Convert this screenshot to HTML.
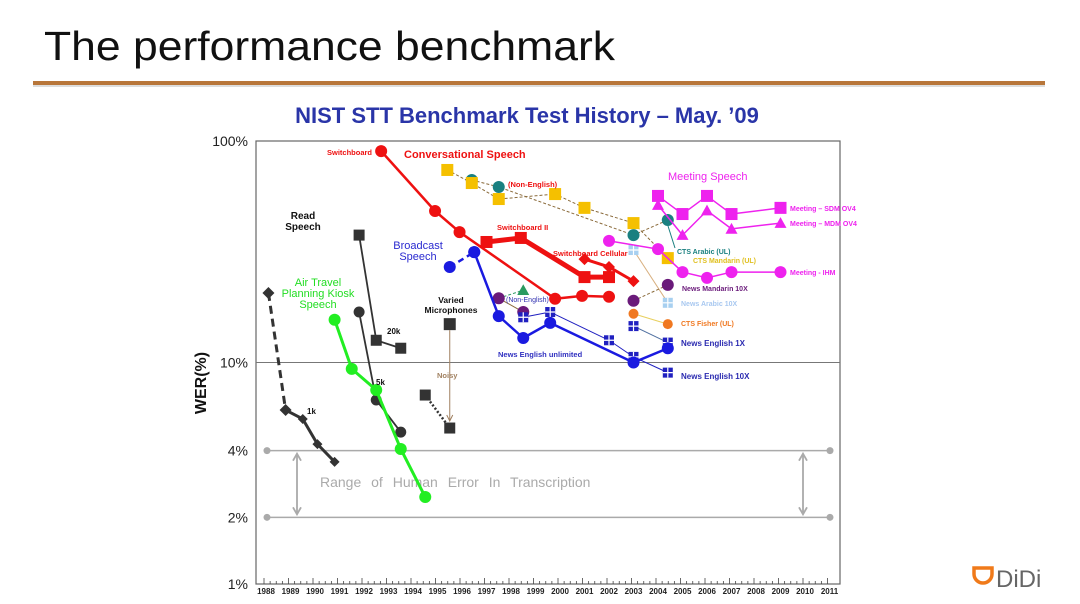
<!DOCTYPE html>
<html><head><meta charset="utf-8"><style>
html,body{margin:0;padding:0;background:#fff;width:1080px;height:604px;overflow:hidden}
svg{display:block}
text{font-family:"Liberation Sans",sans-serif}
</style></head><body>
<svg id="s" width="1080" height="604" viewBox="0 0 1080 604">
<text x="44" y="60" font-size="41" fill="#111" textLength="571" lengthAdjust="spacingAndGlyphs">The performance benchmark</text>
<rect x="33" y="81" width="1012" height="4" fill="#b8763a"/>
<rect x="33" y="85" width="1012" height="2" fill="#ddd"/>
<text x="527" y="123" font-size="22" font-weight="bold" fill="#2a35a8" text-anchor="middle">NIST STT Benchmark Test History – May. ’09</text>
<rect x="256" y="141" width="584" height="443" fill="none" stroke="#666" stroke-width="1.2"/>
<g id="yaxis"></g>
<g id="xaxis"></g>
<text transform="translate(206,383) rotate(-90)" font-size="16" font-weight="bold" text-anchor="middle" fill="#111">WER(%)</text>
<g id="human"></g>
<g id="marks"></g>
<g id="labels"></g>
<g>
<path d="M974 568 h18 v6 a9 9 0 0 1 -18 0 z" fill="none" stroke="#f07a1a" stroke-width="3.5"/>
<text x="996" y="587" font-size="24" fill="#666">DiDi</text>
</g>
</svg>
<script>
const NS="http://www.w3.org/2000/svg";
const yTickVals=[100,10,4,2,1];
const yTickLabels=["100%","10%","4%","2%","1%"];
const xYears=[1988,1989,1990,1991,1992,1993,1994,1995,1996,1997,1998,1999,2000,2001,2002,2003,2004,2005,2006,2007,2008,2009,2010,2011];
const humanRange=[4,2];

const swbYears=[1992.7,1994.9,1995.9,1999.8,2000.9,2002.0];
const swbVals=[90,48.3,38.8,19.4,20,19.8];
const swb2Years=[1997.0,1998.4,2001.0,2002.0];
const swb2Vals=[35,36.5,24.3,24.3];
const cellYears=[2001.0,2002.0,2003.0];
const cellVals=[29.3,27,23.3];
const ctsYears=[1995.4,1996.4,1997.5,1999.8,2001.0,2003.0,2004.4];
const ctsVals=[74,64.6,54.7,57.6,49.9,42.6,29.6];
const nonEngYears=[1996.4,1997.5,2003.0,2004.4];
const nonEngVals=[66.7,62,37.6,44];
const bnDashYears=[1995.5,1996.5];
const bnDashVals=[27,31.5];
const bnYears=[1996.5,1997.5,1998.5,1999.6,2003.0,2004.4];
const bnVals=[31.5,16.2,12.9,15.1,10,11.6];
const ne10Years=[1998.5,1999.6,2002.0,2003.0,2004.4];
const ne10Vals=[16,16.9,12.6,10.6,9.0];
const ne1Years=[2003.0,2004.4];
const ne1Vals=[14.6,12.3];
const bnNonEngYears=[1997.5,1998.5];
const bnNonEngVals=[19.5,16.9];
const triYears=[1997.5,1998.5];
const triVals=[19.5,21.2];
const mandYears=[2003.0,2004.4];
const mandVals=[19,22.4];
const fisherYears=[2003.0,2004.4];
const fisherVals=[16.6,14.9];
const arabYears=[2003.0,2004.4];
const arabVals=[32.2,18.6];
const ihmYears=[2002.0,2004.0,2005.0,2006.0,2007.0,2009.0];
const ihmVals=[35.4,32.5,25.6,24.1,25.6,25.6];
const sdmYears=[2004.0,2005.0,2006.0,2007.0,2009.0];
const sdmVals=[56.5,46.8,56.5,46.8,49.9];
const mdmYears=[2004.0,2005.0,2006.0,2007.0,2009.0];
const mdmVals=[51.4,37.6,48.5,40.1,42.6];
const k1DashYears=[1988.1,1988.8];
const k1DashVals=[20.6,6.1];
const k1Years=[1988.8,1989.5,1990.1,1990.8];
const k1Vals=[6.1,5.56,4.28,3.56];
const k5Years=[1991.8,1992.5,1993.5];
const k5Vals=[16.9,6.77,4.85];
const k20Years=[1991.8,1992.5,1993.5];
const k20Vals=[37.6,12.6,11.6];
const variedYears=[1995.5];
const variedVals=[14.9];
const noisyYears=[1994.5,1995.5];
const noisyVals=[7.13,5.06];
const atisYears=[1990.8,1991.5,1992.5,1993.5,1994.5];
const atisVals=[15.6,9.36,7.51,4.07,2.47];

const X=y=>266+(y-1988)*24.5;
const Y=v=>141+(2-Math.log10(v))*221.5;
function mk(tag,attrs,parent){const e=document.createElementNS(NS,tag);for(const k in attrs)e.setAttribute(k,attrs[k]);parent.appendChild(e);return e;}

const ya=document.getElementById('yaxis');
yTickVals.forEach((v,i)=>{
  const t=mk('text',{x:248,y:Y(v)+5,'font-size':14,'text-anchor':'end',fill:'#222'},ya);
  t.textContent=yTickLabels[i];
  
  
});
const g10=mk('line',{x1:256,x2:840,y1:Y(10),y2:Y(10),stroke:'#777','stroke-width':1},ya);



const xa=document.getElementById('xaxis');
for(let i=0;i<=23*4;i++){
  const x=X(1988)-2+i*24.5/4;
  const tk=mk('line',{x1:x,x2:x,y1:584,y2:i%4==0?578:581,stroke:'#444','stroke-width':0.8},xa);
  
  
}
xYears.forEach(yr=>{
  const t=mk('text',{x:X(yr),y:594,'font-size':8,'font-weight':'bold','text-anchor':'middle',fill:'#222'},xa);
  t.textContent=yr;
  
  
});

const hg=document.getElementById('human');
humanRange.forEach(v=>{
  const l=mk('line',{x1:267,x2:830,y1:Y(v),y2:Y(v),stroke:'#aaa','stroke-width':1.5},hg);
  
  
  [267,830].forEach(cx=>{const c=mk('circle',{cx:cx,cy:Y(v),r:3.5,fill:'#aaa'},hg);
    
    });
});
[297,803].forEach(ax=>{
  const a=mk('path',{d:`M${ax} ${Y(humanRange[0])+3} V${Y(humanRange[1])-3} M${ax-4} ${Y(humanRange[0])+10} L${ax} ${Y(humanRange[0])+3} L${ax+4} ${Y(humanRange[0])+10} M${ax-4} ${Y(humanRange[1])-10} L${ax} ${Y(humanRange[1])-3} L${ax+4} ${Y(humanRange[1])-10}`,stroke:'#aaa','stroke-width':1.8,fill:'none'},hg);
  
  
});
const ht=mk('text',{x:320,y:487,'font-size':14,fill:'#aaa','word-spacing':6},hg);
ht.textContent='Range of Human Error In Transcription';



const mg=document.getElementById('marks');
function marker(type,x,y,c,s,parent){
  let e;
  if(type==='circle')e=mk('circle',{cx:x,cy:y,r:s,fill:c},parent);
  else if(type==='square')e=mk('rect',{x:x-s,y:y-s,width:2*s,height:2*s,fill:c},parent);
  else if(type==='diamond')e=mk('path',{d:`M${x} ${y-s} L${x+s} ${y} L${x} ${y+s} L${x-s} ${y}Z`,fill:c},parent);
  else if(type==='triangle')e=mk('path',{d:`M${x} ${y-s} L${x+s} ${y+s*0.8} L${x-s} ${y+s*0.8}Z`,fill:c},parent);
  else if(type==='qsquare'){e=mk('rect',{x:x-s,y:y-s,width:2*s,height:2*s,fill:c},parent);
    mk('path',{d:`M${x-s} ${y}H${x+s}M${x} ${y-s}V${y+s}`,stroke:'#fff','stroke-width':1.2},parent);}
  return e;
}
function series(name,years,vals,o){
  const g=mk('g',{},mg);
  
  
  const pts=years.map((yr,i)=>X(yr)+','+Y(vals[i])).join(' ');
  if(o.lw){
    const pl=mk('polyline',{points:pts,fill:'none',stroke:o.lc||o.c,'stroke-width':o.lw,'stroke-dasharray':o.dash||'none','stroke-linejoin':'round'},g);
    
    
  }
  if(o.m){
    years.forEach((yr,i)=>{
      if(o.skipFirst&&i===0)return;
      const e=marker(o.m,X(yr),Y(vals[i]),o.c,o.s||6,g);
      
      
    });
  }
}
series('cts-non-english',nonEngYears,nonEngVals,{c:'#1a8080',lc:'#8a6a3a',lw:1,dash:'3,2',m:'circle',s:6});
series('cts-conversational',ctsYears,ctsVals,{c:'#f5c000',lc:'#8a6a3a',lw:1,dash:'3,2',m:'square',s:6});
series('news-arabic-10x',arabYears,arabVals,{c:'#a8d0f0',lc:'#d8b080',lw:1,m:'qsquare',s:5});
series('cts-fisher',fisherYears,fisherVals,{c:'#f07820',lc:'#e8d060',lw:1,m:'circle',s:5});
series('news-mandarin-10x',mandYears,mandVals,{c:'#6a1a7a',lc:'#8a6a3a',lw:1,dash:'3,2',m:'circle',s:6});
series('bn-non-english-triangle',triYears,triVals,{c:'#2a9a60',lc:'#2a9a60',lw:1,dash:'3,2',m:'triangle',s:6,skipFirst:true});
series('bn-non-english',bnNonEngYears,bnNonEngVals,{c:'#6a1a7a',lc:'#8a6a3a',lw:1,m:'circle',s:6});
series('news-english-10x',ne10Years,ne10Vals,{c:'#2020c0',lw:1,m:'qsquare',s:5});
series('news-english-1x',ne1Years,ne1Vals,{c:'#2020c0',lc:'#5070a0',lw:1,m:'qsquare',s:5});
series('broadcast-dashed',bnDashYears,bnDashVals,{c:'#1a1ae0',lw:2.5,dash:'6,4',m:'circle',s:6});
series('broadcast-news',bnYears,bnVals,{c:'#1a1ae0',lw:2.5,m:'circle',s:6});
series('switchboard',swbYears,swbVals,{c:'#ee1111',lw:2.5,m:'circle',s:6});
series('switchboard-ii',swb2Years,swb2Vals,{c:'#ee1111',lw:5,m:'square',s:6});
series('switchboard-cellular',cellYears,cellVals,{c:'#ee1111',lw:3,m:'diamond',s:6});
series('meeting-ihm',ihmYears,ihmVals,{c:'#ee22ee',lw:1.5,m:'circle',s:6});
series('meeting-sdm',sdmYears,sdmVals,{c:'#ee22ee',lw:1.5,m:'square',s:6});
series('meeting-mdm',mdmYears,mdmVals,{c:'#ee22ee',lw:1.5,m:'triangle',s:6});
series('read-1k-dashed',k1DashYears,k1DashVals,{c:'#333',lw:3,dash:'8,5',m:'diamond',s:6});
series('read-1k',k1Years,k1Vals,{c:'#333',lw:3,m:'diamond',s:5});
series('read-5k',k5Years,k5Vals,{c:'#333',lw:1.8,m:'circle',s:5.5});
series('read-20k',k20Years,k20Vals,{c:'#333',lw:1.8,m:'square',s:5.5});
series('varied-noisy',noisyYears,noisyVals,{c:'#333',lw:2.5,dash:'2,2',m:'square',s:5.5});
series('varied-microphones',variedYears,variedVals,{c:'#333',m:'square',s:6});
series('atis',atisYears,atisVals,{c:'#22ee22',lw:3,m:'circle',s:6});

const na=mk('path',{d:`M${X(variedYears[0])} ${Y(variedVals[0])+6} V${Y(noisyVals[1])-8} M${X(variedYears[0])-3} ${Y(noisyVals[1])-13} L${X(variedYears[0])} ${Y(noisyVals[1])-7} L${X(variedYears[0])+3} ${Y(noisyVals[1])-13}`,stroke:'#a08060','stroke-width':1,fill:'none'},mg);


const ca=mk('line',{x1:668,y1:226,x2:675,y2:248,stroke:'#1a8080','stroke-width':1},mg);



const lg=document.getElementById('labels');
const labels=[
 ['Switchboard',327,155,7.5,'#ee1111','bold','start'],
 ['Conversational Speech',404,158,11,'#ee1111','bold','start'],
 ['(Non-English)',508,187,7.5,'#ee1111','bold','start'],
 ['Switchboard II',497,230,7.5,'#ee1111','bold','start'],
 ['Switchboard Cellular',553,256,7.5,'#ee1111','bold','start'],
 ['Broadcast',418,249,11,'#2a2ad0','normal','middle'],
 ['Speech',418,260,11,'#2a2ad0','normal','middle'],
 ['Read',303,219,10,'#111','bold','middle'],
 ['Speech',303,230,10,'#111','bold','middle'],
 ['Air Travel',318,286,11,'#22dd22','normal','middle'],
 ['Planning Kiosk',318,297,11,'#22dd22','normal','middle'],
 ['Speech',318,308,11,'#22dd22','normal','middle'],
 ['Varied',451,303,8.5,'#111','bold','middle'],
 ['Microphones',451,313,8.5,'#111','bold','middle'],
 ['20k',387,334,8,'#111','bold','start'],
 ['5k',376,385,8,'#111','bold','start'],
 ['1k',307,414,8,'#111','bold','start'],
 ['Noisy',437,378,7.5,'#a08060','bold','start'],
 ['(Non-English)',506,302,7,'#3030b0','normal','start'],
 ['News English unlimited',498,357,7.5,'#3030c0','bold','start'],
 ['Meeting Speech',668,180,11,'#ee22ee','normal','start'],
 ['Meeting – SDM OV4',790,211,7,'#ee22ee','bold','start'],
 ['Meeting – MDM OV4',790,226,7,'#ee22ee','bold','start'],
 ['CTS Arabic (UL)',677,254,7,'#1a8080','bold','start'],
 ['CTS Mandarin (UL)',693,263,7,'#e0c020','bold','start'],
 ['Meeting - IHM',790,275,7,'#ee22ee','bold','start'],
 ['News Mandarin 10X',682,291,7,'#6a1a7a','bold','start'],
 ['News Arabic 10X',681,306,7,'#a8c8f0','bold','start'],
 ['CTS Fisher (UL)',681,326,7,'#f07820','bold','start'],
 ['News English  1X',681,346,8,'#2a2ab0','bold','start'],
 ['News English  10X',681,379,8,'#2a2ab0','bold','start']
];
labels.forEach(l=>{
  const t=mk('text',{x:l[1],y:l[2],'font-size':l[3],fill:l[4],'font-weight':l[5],'text-anchor':l[6]},lg);
  t.textContent=l[0];
  
  
});
</script>
</body></html>
